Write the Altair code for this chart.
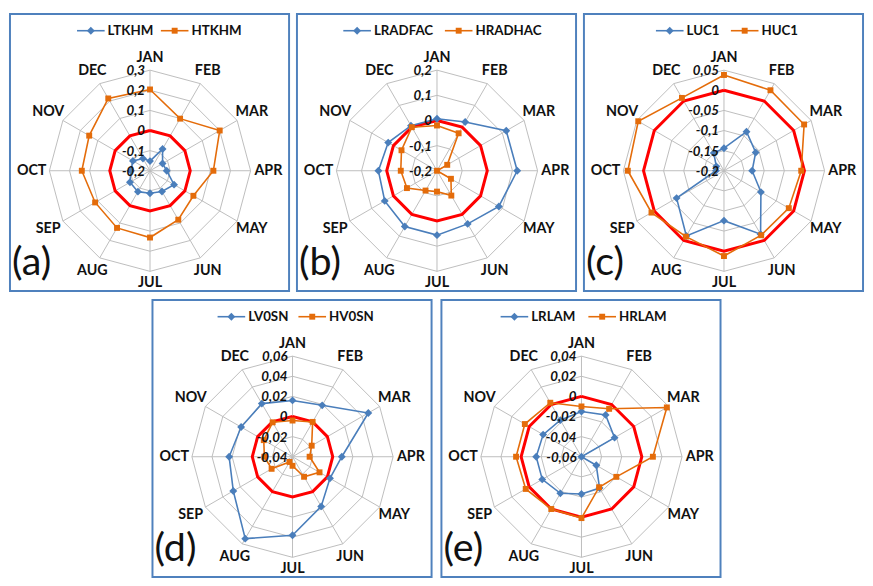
import altair as alt
import pandas as pd

MONTHS = ["JAN", "FEB", "MAR", "APR", "MAY", "JUN", "JUL", "AUG", "SEP", "OCT", "NOV", "DEC"]

# ---- panel (a)
A_NAMES = ["LTKHM", "HTKHM"]
A_LOW = [-0.152, -0.075, -0.128, -0.117, -0.062, -0.081, -0.088, -0.080, -0.085, -0.105, -0.102, -0.130]
A_HIGH = [0.204, 0.099, 0.200, 0.115, 0.049, 0.081, 0.132, 0.128, 0.115, 0.139, 0.149, 0.215]
A_TICKS = [-0.2, -0.1, 0.0, 0.1, 0.2, 0.3]
A_TICK_LABELS = ["-0,2", "-0,1", "0", "0,1", "0,2", "0,3"]

# ---- panel (b)
B_NAMES = ["LRADFAC", "HRADHAC"]
B_LOW = [0.007, 0.024, 0.118, 0.119, 0.084, 0.044, 0.056, 0.056, 0.040, 0.033, 0.024, 0.007]
B_HIGH = [-0.020, -0.028, -0.153, -0.200, -0.136, -0.086, -0.117, -0.109, -0.062, -0.056, -0.037, 0.000]
B_TICKS = [-0.2, -0.1, 0.0, 0.1, 0.2]
B_TICK_LABELS = ["-0,2", "-0,1", "0", "0,1", "0,2"]

# ---- panel (c)
C_NAMES = ["LUC1", "HUC1"]
C_LOW = [-0.144, -0.088, -0.109, -0.130, -0.094, -0.018, -0.076, -0.013, -0.064, -0.180, -0.178, -0.149]
C_HIGH = [0.038, 0.031, 0.030, -0.008, -0.014, -0.015, 0.012, -0.011, 0.008, 0.039, 0.046, 0.009]
C_TICKS = [-0.2, -0.15, -0.1, -0.05, 0.0, 0.05]
C_TICK_LABELS = ["-0,2", "-0,15", "-0,1", "-0,05", "0", "0,05"]

# ---- panel (d)
D_NAMES = ["LV0SN", "HV0SN"]
D_LOW = [0.016, 0.019, 0.047, 0.009, 0.003, 0.017, 0.038, 0.054, 0.028, 0.023, 0.019, 0.021]
D_HIGH = [-0.004, 0.000, -0.018, -0.023, -0.009, -0.017, -0.031, -0.034, -0.016, -0.012, -0.007, -0.0005]
D_TICKS = [-0.04, -0.02, 0.0, 0.02, 0.04, 0.06]
D_TICK_LABELS = ["-0,04", "-0,02", "0", "0,02", "0,04", "0,06"]

# ---- panel (e)
E_NAMES = ["LRLAM", "HRLAM"]
E_LOW = [-0.015, -0.012, -0.022, -0.060, -0.043, -0.024, -0.023, -0.018, -0.015, -0.015, -0.016, -0.018]
E_HIGH = [-0.010, -0.005, 0.038, 0.011, -0.020, -0.025, 0.001, 0.000, 0.004, 0.005, 0.005, 0.002]
E_TICKS = [-0.06, -0.04, -0.02, 0.0, 0.02, 0.04]
E_TICK_LABELS = ["-0,06", "-0,04", "-0,02", "0", "0,02", "0,04"]

BLUE = "#4A7EBB"
ORANGE = "#E46C0A"
RED = "#FF0000"
GRID = "#BDBDBD"
BORDER = "#4F81BD"
TEXT = "#111111"
FONT = "Lato"

W, H = 283, 281
CX, CY = 142, 159
R = 102


def X(field):
    return alt.X(field, type="quantitative",
                 scale=alt.Scale(domain=[-CX, W - CX], nice=False, zero=False), axis=None)


def Y(field):
    return alt.Y(field, type="quantitative",
                 scale=alt.Scale(domain=[CY - H, CY], nice=False, zero=False), axis=None)


SER_COLOR = alt.Color("s:N", scale=alt.Scale(domain=[0, 1], range=[BLUE, ORANGE]), legend=None)
SER_SHAPE = alt.Shape("s:N", scale=alt.Scale(domain=[0, 1], range=["diamond", "square"]), legend=None)
SER_SIZE = alt.Size("s:N", scale=alt.Scale(domain=[0, 1], range=[64, 36]), legend=None)


def panel(letter, names, low, high, ticks, tick_labels, leg_x0, leg_dx):
    vmin, vmax = ticks[0], ticks[-1]
    span = vmax - vmin
    ang = "datum.k * PI / 6"
    rr = f"(datum.v - ({vmin})) / {span} * {R}"

    # series
    rows = []
    for s, vals in enumerate([low, high]):
        for k in range(13):
            rows.append({"s": s, "k": k, "v": vals[k % 12]})
    ser = alt.Chart(pd.DataFrame(rows)).transform_calculate(
        a=ang).transform_calculate(r=rr).transform_calculate(
        px="datum.r * sin(datum.a)", py="datum.r * cos(datum.a)")

    lines = ser.mark_line(strokeWidth=1.6).encode(
        x=X("px"), y=Y("py"), color=SER_COLOR, detail="s:N", order="k:Q")
    pts = ser.transform_filter("datum.k < 12").mark_point(filled=True, opacity=1).encode(
        x=X("px"), y=Y("py"), color=SER_COLOR, shape=SER_SHAPE, size=SER_SIZE)

    # grid rings
    ring_rows = []
    for t in ticks[1:]:
        for k in range(13):
            ring_rows.append({"t": t, "k": k, "v": t})
    rings = alt.Chart(pd.DataFrame(ring_rows)).transform_calculate(
        a=ang).transform_calculate(r=rr).transform_calculate(
        px="datum.r * sin(datum.a)", py="datum.r * cos(datum.a)").mark_line(
        color=GRID, strokeWidth=1).encode(x=X("px"), y=Y("py"), detail="t:N", order="k:Q")

    # spokes
    spokes = alt.Chart(pd.DataFrame({"m": MONTHS, "k": list(range(12))})).transform_calculate(
        a=ang).transform_calculate(
        ox="0", oy="0",
        ex=f"{R} * sin(datum.a)", ey=f"{R} * cos(datum.a)").mark_rule(
        color=GRID, strokeWidth=1).encode(x=X("ox"), y=Y("oy"), x2="ex:Q", y2="ey:Q")

    # zero reference polygon
    zero = alt.Chart(pd.DataFrame({"k": list(range(13)), "v": [0.0] * 13})).transform_calculate(
        a=ang).transform_calculate(r=rr).transform_calculate(
        px="datum.r * sin(datum.a)", py="datum.r * cos(datum.a)").mark_line(
        color=RED, strokeWidth=3).encode(x=X("px"), y=Y("py"), order="k:Q")

    # month labels
    months = alt.Chart(pd.DataFrame({"m": MONTHS, "k": list(range(12))})).transform_calculate(
        a=ang).transform_calculate(
        lr=f"{R} + 12 + 6 * abs(sin(datum.a))").transform_calculate(
        px="datum.lr * sin(datum.a)", py="datum.lr * cos(datum.a)").mark_text(
        font=FONT, fontSize=14.5, fontWeight="bold", color=TEXT,
        align="center", baseline="middle").encode(x=X("px"), y=Y("py"), text="m:N")

    # radial axis labels
    tlabs = alt.Chart(pd.DataFrame({"lab": tick_labels, "v": ticks})).transform_calculate(
        r=rr).transform_calculate(px="0").mark_text(
        font=FONT, fontSize=13.5, fontWeight="bold", fontStyle="italic", color=TEXT,
        align="right", baseline="middle", dx=-5, dy=1).encode(x=X("px"), y=Y("r"), text="lab:N")

    # legend
    leg = alt.Chart(pd.DataFrame({"name": names, "s": [0, 1]})).transform_calculate(
        lx=f"{leg_x0 - CX} + datum.s * {leg_dx}").transform_calculate(
        lx2="datum.lx + 28", lm="datum.lx + 14", tx="datum.lx + 31", ly=f"{CY - 17}")
    leg_rule = leg.mark_rule(strokeWidth=1.6).encode(
        x=X("lx"), x2="lx2:Q", y=Y("ly"), color=SER_COLOR)
    leg_pt = leg.mark_point(filled=True, opacity=1).encode(
        x=X("lm"), y=Y("ly"), color=SER_COLOR, shape=SER_SHAPE, size=SER_SIZE)
    leg_txt = leg.mark_text(font=FONT, fontSize=13.5, fontWeight="bold", color=TEXT,
                            align="left", baseline="middle").encode(
        x=X("tx"), y=Y("ly"), text="name:N")

    tag = alt.Chart(pd.DataFrame({"t": [f"({letter})"]})).mark_text(
        font=FONT, fontSize=40, color=TEXT, align="left", baseline="middle").encode(
        x=alt.value(2), y=alt.value(H - 28), text="t:N")

    return alt.layer(spokes, rings, zero, lines, pts, tlabs, months,
                     leg_rule, leg_pt, leg_txt, tag).properties(width=W, height=H)


pa = panel("a", A_NAMES, A_LOW, A_HIGH, A_TICKS, A_TICK_LABELS, 68, 85)
pb = panel("b", B_NAMES, B_LOW, B_HIGH, B_TICKS, B_TICK_LABELS, 47, 103)
pc = panel("c", C_NAMES, C_LOW, C_HIGH, C_TICKS, C_TICK_LABELS, 73, 76)
pd_ = panel("d", D_NAMES, D_LOW, D_HIGH, D_TICKS, D_TICK_LABELS, 66, 82)
pe = panel("e", E_NAMES, E_LOW, E_HIGH, E_TICKS, E_TICK_LABELS, 60, 89)

top = alt.hconcat(pa, pb, pc, spacing=6)
bottom = alt.hconcat(pd_, pe, spacing=8)

chart = alt.vconcat(top, bottom, spacing=7, center=True).properties(
    padding={"left": 1, "top": 1, "right": 1, "bottom": 1},
    background="white",
).configure_view(stroke=BORDER, strokeWidth=2)

chart.save("out.html", embed_options={"renderer": "svg", "actions": False})
